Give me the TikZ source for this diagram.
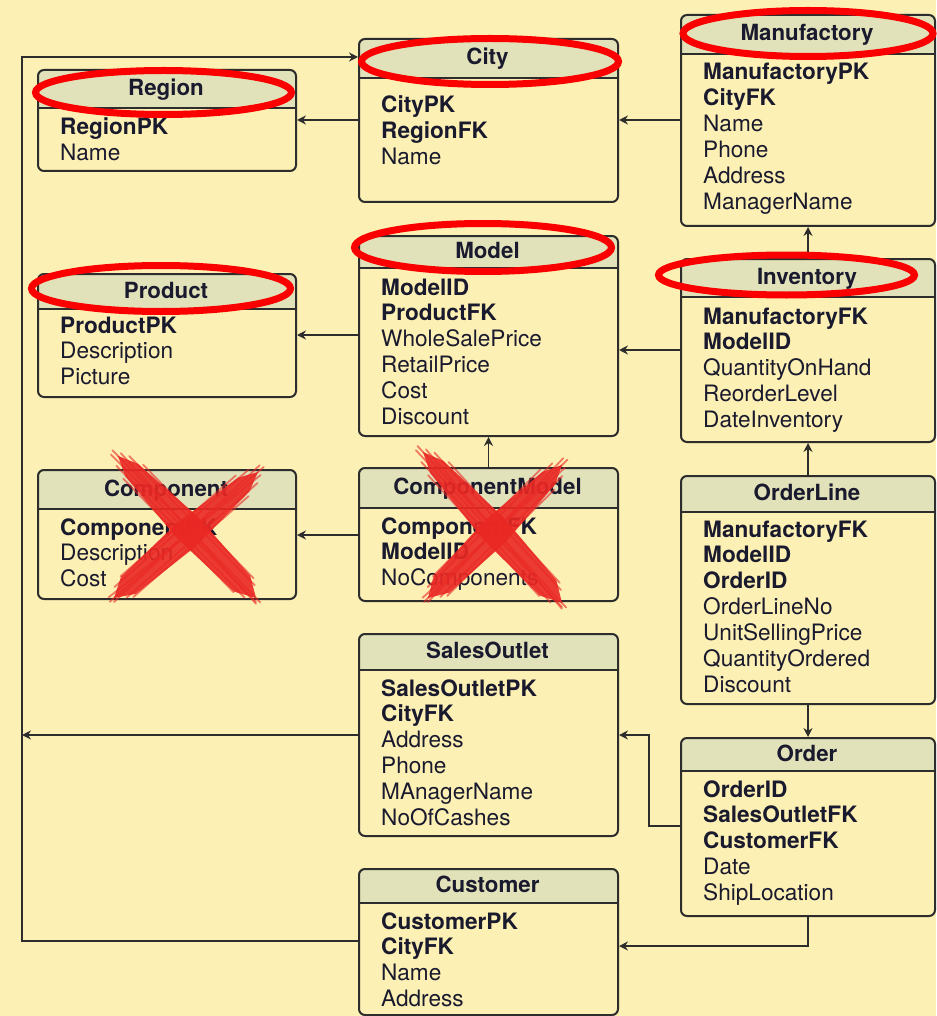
\documentclass[tikz,border=0pt]{standalone}
\usepackage{fontspec}
\setmainfont{TeX Gyre Heros}
\usetikzlibrary{calc,arrows.meta}

\definecolor{paper}{RGB}{253,240,180}
\definecolor{headfill}{RGB}{226,226,186}
\definecolor{inkline}{RGB}{45,45,45}
\definecolor{inktext}{RGB}{26,26,46}
\definecolor{ringred}{RGB}{250,0,0}
\definecolor{paintred}{RGB}{234,40,36}

\tikzset{
  x=1pt, y=-1pt,
  tablebox/.style={draw=inkline, line width=2pt, rounded corners=6pt,
                   inner sep=0pt, anchor=north west},
  tabletitle/.style={font=\fontsize{22.3}{26}\selectfont\bfseries,
                     text=inktext, anchor=base, inner sep=0pt},
  attr/.style={font=\fontsize{22.6}{26}\selectfont, text=inktext,
               anchor=base west, inner sep=0pt},
  fk/.style={draw=inkline, line width=1.8pt,
             -{Stealth[length=9pt,width=9pt,inset=3pt]}},
  ring/.style={draw=ringred, line width=7pt},
  xpaint/.style={fill=paintred, opacity=0.9},
  bristle/.style={draw=paintred, line width=1.8pt, opacity=0.6, line cap=round}
}

% Bold key attribute
\newcommand\kf[1]{\textbf{#1}}

% #1 name, #2 left, #3 top, #4 right, #5 bottom, #6 header rule,
% #7 title, #8 first baseline, #9 attribute list
\newcommand\erbox[9]{%
  \begin{scope}
    \clip (#2-3,#3-3) rectangle (#4+3,#6);
    \fill[headfill, rounded corners=6pt] (#2,#3) rectangle (#4,#5);
  \end{scope}
  \draw[inkline, line width=2pt] (#2,#6) -- (#4,#6);
  \node[tablebox, minimum width={#4-#2}, minimum height={#5-#3}] (#1) at (#2,#3) {};
  \node[tabletitle] (#1-title) at ({(#2+#4)/2},{(#3+#6)/2+7}) {#7};
  \foreach \t [count=\i from 0] in {#9}
    \node[attr] (#1-\i) at (#2+23,#8+\i*25.9) {\t};
}

% Tapered brush stroke from #1 to #2 with half width #3 (in pt)
\newcommand\paintstroke[3]{%
  \fill[xpaint] (#1)
    -- ($(#1)!0.1!(#2)!{0.6*#3pt}!90:(#2)$)
    -- ($(#1)!0.5!(#2)!{#3pt}!90:(#2)$)
    -- ($(#1)!0.9!(#2)!{0.75*#3pt}!90:(#2)$)
    -- (#2)
    -- ($(#1)!0.9!(#2)!{-0.75*#3pt}!90:(#2)$)
    -- ($(#1)!0.5!(#2)!{-#3pt}!90:(#2)$)
    -- ($(#1)!0.1!(#2)!{-0.6*#3pt}!90:(#2)$)
    -- cycle;
  \foreach \o/\s/\e in {-12/0.10/0.90, -8/0.03/0.96, -4/-0.03/1.00, 0/-0.04/1.03,
                        4/0.00/1.02, 8/0.04/0.95, 12/0.12/0.92}
    \draw[bristle] ($(#1)!\s!(#2)!{\o pt}!90:(#2)$) -- ($(#1)!\e!(#2)!{\o pt}!90:(#2)$);
}

\begin{document}
\begin{tikzpicture}
  \fill[paper] (0,0) rectangle (936,1016);
  \useasboundingbox (0,0) rectangle (936,1016);

  % Tables
  \erbox{region}{37}{69}{295}{170}{108}{Region}{135}
    {\kf{RegionPK}, Name}
  \erbox{city}{358}{38}{617}{201}{78}{City}{113}
    {\kf{CityPK}, \kf{RegionFK}, Name}
  \erbox{manuf}{680}{14}{934}{225}{54}{Manufactory}{80}
    {\kf{ManufactoryPK}, \kf{CityFK}, Name, Phone, Address, ManagerName}
  \erbox{product}{37}{273}{295}{396}{309}{Product}{333}
    {\kf{ProductPK}, Description, Picture}
  \erbox{model}{358}{235}{617}{435}{268}{Model}{295}
    {\kf{ModelID}, \kf{ProductFK}, WholeSalePrice, RetailPrice, Cost, Discount}
  \erbox{inventory}{680}{258}{934}{441}{297}{Inventory}{324}
    {\kf{ManufactoryFK}, \kf{ModelID}, QuantityOnHand, ReorderLevel, DateInventory}
  \erbox{component}{37}{469}{295}{598}{509}{Component}{535}
    {\kf{ComponentPK}, Description, Cost}
  \erbox{compmodel}{358}{467}{617}{600}{508}{ComponentModel}{534}
    {\kf{ComponentFK}, \kf{ModelID}, NoComponents}
  \erbox{orderline}{680}{475}{934}{703}{512}{OrderLine}{537}
    {\kf{ManufactoryFK}, \kf{ModelID}, \kf{OrderID}, OrderLineNo,
     UnitSellingPrice, QuantityOrdered, Discount}
  \erbox{salesoutlet}{358}{633}{617}{835}{670}{SalesOutlet}{696}
    {\kf{SalesOutletPK}, \kf{CityFK}, Address, Phone, MAnagerName, NoOfCashes}
  \erbox{order}{680}{737}{934}{915}{771}{Order}{797}
    {\kf{OrderID}, \kf{SalesOutletFK}, \kf{CustomerFK}, Date, ShipLocation}
  \erbox{customer}{358}{868}{617}{1014}{903}{Customer}{929}
    {\kf{CustomerPK}, \kf{CityFK}, Name, Address}

  % Foreign-key references
  \coordinate (bus) at (22,57);
  \draw[fk] (city.west |- 0,120) -- (region.east |- 0,120);
  \draw[fk] (manuf.west |- 0,120) -- (city.east |- 0,120);
  \draw[fk] (customer.west |- 0,941) -| (bus) -- (city.west |- bus);
  \draw[fk] (salesoutlet.west |- 0,735) -- (bus |- 0,735);
  \draw[fk] (model.west |- 0,335) -- (product.east |- 0,335);
  \draw[fk] (inventory.west |- 0,350) -- (model.east |- 0,350);
  \draw[fk] (inventory.north) -- (manuf.south);
  \draw[fk] (compmodel.north) -- (model.south);
  \draw[fk] (compmodel.west |- 0,535) -- (component.east |- 0,535);
  \draw[fk] (orderline.north) -- (inventory.south);
  \draw[fk] (orderline.south) -- (order.north);
  \draw[fk] (order.west |- 0,826) -- (649,826) -- (649,735)
            -- (salesoutlet.east |- 0,735);
  \draw[fk] (order.south) |- (customer.east |- 0,946);

  % Highlight rings round the kept table names
  \draw[ring] (163.5,92.5) ellipse [x radius=128, y radius=22];
  \draw[ring] (490,61.5) ellipse [x radius=128.5, y radius=23];
  \draw[ring] (808,33.5) ellipse [x radius=125, y radius=23];
  \draw[ring] (483,247.5) ellipse [x radius=128.5, y radius=24];
  \draw[ring] (161,288.5) ellipse [x radius=129.5, y radius=23];
  \draw[ring] (786.5,275) ellipse [x radius=128, y radius=20];

  % Crossed-out tables
  \paintstroke{118,456}{256,598}{15}
  \paintstroke{258,472}{114,598}{15}
  \paintstroke{423,452}{562,603}{15}
  \paintstroke{562,465}{428,598}{15}
\end{tikzpicture}
\end{document}
